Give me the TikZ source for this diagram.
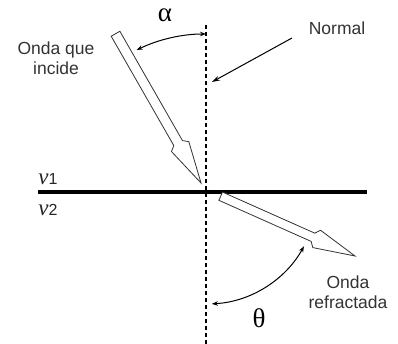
\documentclass[tikz,border=0pt]{standalone}
\usepackage{fontspec}
\setmainfont{Liberation Sans}
\newfontfamily\grkfont{Liberation Serif}
\usetikzlibrary{arrows.meta,calc}
\begin{document}
\begin{tikzpicture}[x=1pt,y=1pt,
  lbl/.style={font=\fontsize{17.5}{20}\selectfont, text=black!80, align=center, inner sep=0pt},
  greek/.style={font=\grkfont\fontsize{27}{27}\selectfont, inner sep=0pt},
  medium/.style={font=\grkfont\itshape\fontsize{23}{23}\selectfont, inner sep=0pt, text=black!85},
  hollow/.style={draw=black!80, line width=0.8pt, fill=white, line join=miter},
  angarc/.style={line width=1pt, {Stealth[length=6pt,width=4.5pt]}-{Stealth[length=6pt,width=4.5pt]}},
  pointer/.style={line width=1pt, -{Stealth[length=8pt,width=5pt]}},
]
\useasboundingbox (0,0) rectangle (398,344);
% normal and interface
\coordinate (ntop) at (206,319);
\coordinate (nbot) at (206,0);
\coordinate (ileft) at (38,152);
\coordinate (iright) at (367,152);
\coordinate (O) at (206,152);
\draw[line width=1.2pt, dash pattern=on 4pt off 3pt] (ntop) -- (nbot);
\draw[line width=4pt] (ileft) -- (iright);
% incident hollow arrow
\begin{scope}[shift={(201,161)}, rotate=-60.2]
  \draw[hollow] (0,0) -- (-42,10) -- (-46,5) -- (-172,5) -- (-172,-5) -- (-46,-5) -- (-42,-10) -- cycle;
\end{scope}
% refracted hollow arrow
\begin{scope}[shift={(355,88)}, rotate=-24]
  \draw[hollow] (0,0) -- (-42,9.5) -- (-46,4.5) -- (-147,4.5) -- (-147,-4.5) -- (-46,-4.5) -- (-42,-9.5) -- cycle;
\end{scope}
% angle arcs
\draw[angarc] ($(O)+(116:158)$) arc[start angle=116, end angle=90, radius=158];
\draw[angarc] ($(O)+(-87:112)$) arc[start angle=-87, end angle=-29, radius=112];
% labels
\node[greek] (alpha) at (165,329) {α};
\node[greek] (theta) at (259,26) {θ};
\node[lbl] (normal) at (337,316) {Normal};
\node[lbl] (inc) at (56,286) {Onda que\\incide};
\node[lbl] (refr) at (348,52) {Onda\\refractada};
\node[medium] (v1) at (48,165) {ν\textup{\fontspec{Liberation Sans}\fontsize{16}{16}\selectfont 1}};
\node[medium] (v2) at (48,134) {ν\textup{\fontspec{Liberation Sans}\fontsize{16}{16}\selectfont 2}};
% pointer to normal
\coordinate (pstart) at (292,306);
\coordinate (pend) at (212,262);
\draw[pointer] (pstart) -- (pend);
\end{tikzpicture}
\end{document}
